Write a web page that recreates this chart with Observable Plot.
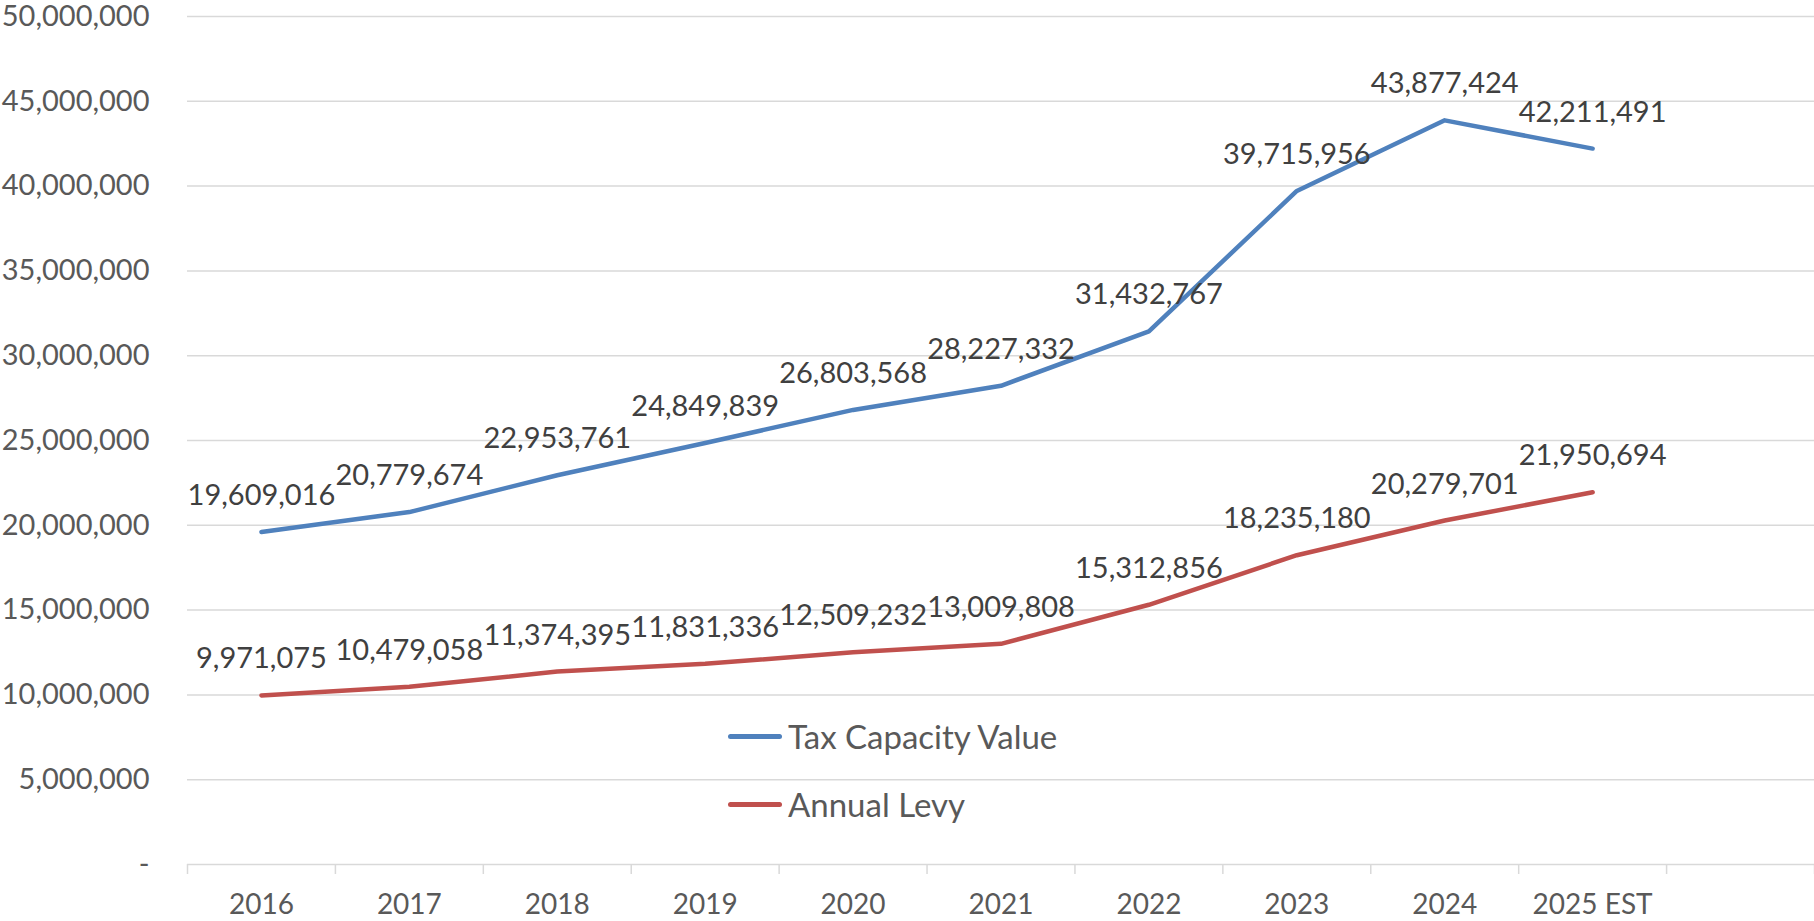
<!DOCTYPE html>
<html>
<head>
<meta charset="utf-8">
<script src="https://cdn.jsdelivr.net/npm/d3@7"></script>
<script src="https://cdn.jsdelivr.net/npm/@observablehq/plot@0.6"></script>
<style>
  html, body { margin: 0; padding: 0; background: #fff; }
  #wrap { position: relative; width: 1814px; height: 921px; font-family: Lato, "Open Sans", sans-serif; }
  #legend { position: absolute; left: 728px; top: 716px; }
  .row { display: flex; align-items: center; height: 40px; margin-bottom: 28px; font-size: 33px; color: #595959; }
  .sw { width: 54px; height: 5px; border-radius: 3px; margin-right: 6px; }
</style>
</head>
<body>
<div id="wrap"></div>
<script>
const years = ["2016", "2017", "2018", "2019", "2020", "2021", "2022", "2023", "2024", "2025 EST"];
const taxCapacity = [19609016, 20779674, 22953761, 24849839, 26803568, 28227332, 31432767, 39715956, 43877424, 42211491];
const annualLevy = [9971075, 10479058, 11374395, 11831336, 12509232, 13009808, 15312856, 18235180, 20279701, 21950694];
const yTicks = [0, 5000000, 10000000, 15000000, 20000000, 25000000, 30000000, 35000000, 40000000, 45000000, 50000000];
const seriesNames = ["Tax Capacity Value", "Annual Levy"];
const seriesColors = ["#4F81BD", "#C0504D"];

const rows = [];
years.forEach((yr, i) => {
  rows.push({series: seriesNames[0], year: yr, i, value: taxCapacity[i]});
  rows.push({series: seriesNames[1], year: yr, i, value: annualLevy[i]});
});
const slots = years.length + 1; // one empty category slot at the end
const fmt = d3.format(",");

const chart = Plot.plot({
  width: 1814,
  height: 921,
  marginLeft: 187,
  marginRight: 0,
  marginTop: 16,
  marginBottom: 57,
  style: {fontFamily: "Lato, 'Open Sans', sans-serif", color: "#595959", background: "#fff"},
  x: {type: "linear", domain: [0, slots], axis: null},
  y: {domain: [0, 50000000], axis: null},
  color: {domain: seriesNames, range: seriesColors},
  marks: [
    Plot.gridY(yTicks, {stroke: "#d9d9d9", strokeOpacity: 1, strokeWidth: 1.5}),
    Plot.axisY(yTicks, {label: null, tickSize: 0, tickPadding: 38, fontSize: 29, fill: "#595959",
      tickFormat: d => d === 0 ? "-" : fmt(d)}),
    Plot.axisX(d3.range(0, slots + 1), {label: null, tickSize: 10, stroke: "#d9d9d9", strokeWidth: 1.5, strokeOpacity: 1, tickFormat: () => ""}),
    Plot.axisX(years.map((_, i) => i + 0.5), {label: null, tickSize: 0, tickPadding: 30, fontSize: 28, fill: "#595959",
      tickFormat: d => years[Math.round(d - 0.5)]}),
    Plot.line(rows, {x: d => d.i + 0.5, y: "value", z: "series", stroke: "series",
      strokeWidth: 4.5, strokeLinecap: "round", strokeLinejoin: "round"}),
    Plot.text(rows, {x: d => d.i + 0.5, y: "value", text: d => fmt(d.value),
      lineAnchor: "bottom", dy: -27, fontSize: 29, fill: "#404040"})
  ]
});

const wrap = document.getElementById("wrap");
wrap.appendChild(chart);

const legend = document.createElement("div");
legend.id = "legend";
seriesNames.forEach((name, k) => {
  const row = document.createElement("div");
  row.className = "row";
  const sw = document.createElement("span");
  sw.className = "sw";
  sw.style.background = seriesColors[k];
  const lab = document.createElement("span");
  lab.textContent = name;
  row.appendChild(sw);
  row.appendChild(lab);
  legend.appendChild(row);
});
wrap.appendChild(legend);
</script>
</body>
</html>
